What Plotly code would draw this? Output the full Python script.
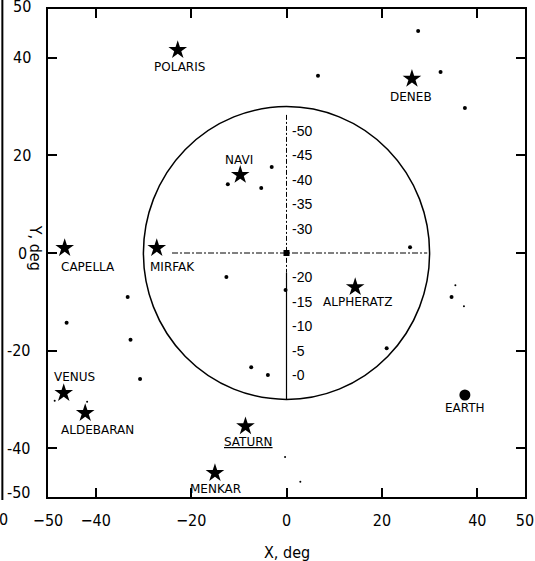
import plotly.graph_objects as go

# ---- data ----
star_names = ["POLARIS", "NAVI", "CAPELLA", "MIRFAK", "DENEB", "ALPHERATZ",
              "VENUS", "ALDEBARAN", "SATURN", "MENKAR"]
star_x = [-22.8, -9.7, -46.5, -27.2, 26.3, 14.4, -46.7, -42.2, -8.6, -15.0]
star_y = [41.6, 16.0, 1.0, 1.0, 35.7, -7.0, -28.7, -32.8, -35.5, -45.1]

earth_name = ["EARTH"]
earth_x = [37.4]
earth_y = [-29.1]

dot_x = [-12.3, -5.3, -3.1, 6.6, 27.6, 32.3, 37.4, 25.9, -12.6, -33.3,
         -46.1, -32.7, -30.7, -7.4, -3.9, -0.2, 21.0, 34.6]
dot_y = [14.1, 13.3, 17.6, 36.3, 45.5, 37.1, 29.7, 1.2, -4.9, -9.0,
         -14.3, -17.8, -25.8, -23.4, -25.0, -7.6, -19.5, -9.0]

faint_x = [37.2, 35.4, -0.3, 2.9, -41.8, -48.6]
faint_y = [-10.9, -6.6, -41.8, -46.9, -30.5, -30.3]

center_x = [0]
center_y = [0]

fov_radius = 30
inner_scale = [50, 45, 40, 35, 30, 20, 15, 10, 5, 0]
inner_scale_zero = 25  # scale value at the circle centre

x_tick_vals = [-50, -40, -20, 0, 20, 40, 50]
y_tick_vals = [50, 40, 20, 0, -20, -40, -50]

# ---- style ----
label_shift = {
    "POLARIS": (2, -17), "NAVI": (-1, 15), "CAPELLA": (23, -19),
    "MIRFAK": (16, -19), "DENEB": (-1, -18), "ALPHERATZ": (2, -15),
    "VENUS": (11, 16), "ALDEBARAN": (12, -17), "SATURN": (3, -16),
    "MENKAR": (1, -16), "EARTH": (0, -13),
}
LBL_FONT = dict(family="DejaVu Sans, Liberation Sans, Arial, sans-serif", size=12, color="black")
NUM_FONT = dict(family="Liberation Sans Narrow, DejaVu Sans Condensed, Arial Narrow, sans-serif",
                size=16, color="black")


def fmt(v):
    return ("\u2212%d" % -v) if v < 0 else str(v)


fig = go.Figure()

# field-of-view circle
fig.add_shape(type="circle", xref="x", yref="y",
              x0=-fov_radius, y0=-fov_radius, x1=fov_radius, y1=fov_radius,
              line=dict(color="black", width=1.5))
# cross hairs
fig.add_shape(type="line", xref="x", yref="y", x0=-24, y0=0, x1=29.5, y1=0,
              line=dict(color="black", width=1, dash="6px,2px,2px,2px"))
fig.add_shape(type="line", xref="x", yref="y", x0=0, y0=28.3, x1=0, y1=-4,
              line=dict(color="black", width=1, dash="5px,2px,2px,2px"))
fig.add_shape(type="line", xref="x", yref="y", x0=0, y0=-4, x1=0, y1=-fov_radius,
              line=dict(color="black", width=1.2))

# scan-edge line on far left
fig.add_shape(type="line", xref="paper", yref="paper",
              x0=(1.5 - 48) / 486, x1=(1.5 - 48) / 486,
              y0=(497 - 0) / 488, y1=(497 - 500) / 488,
              line=dict(color="black", width=2))

fig.add_trace(go.Scatter(x=dot_x, y=dot_y, mode="markers",
                         marker=dict(color="black", size=4), hoverinfo="skip"))
fig.add_trace(go.Scatter(x=faint_x, y=faint_y, mode="markers",
                         marker=dict(color="black", size=2), hoverinfo="skip"))
fig.add_trace(go.Scatter(x=center_x, y=center_y, mode="markers",
                         marker=dict(color="black", size=6, symbol="square"), hoverinfo="skip"))
fig.add_trace(go.Scatter(x=star_x, y=star_y, mode="markers",
                         marker=dict(color="black", size=14, symbol="star",
                                     line=dict(width=0))))
fig.add_trace(go.Scatter(x=earth_x, y=earth_y, mode="markers",
                         marker=dict(color="black", size=11, symbol="circle")))

annotations = []
for name, x, y in list(zip(star_names, star_x, star_y)) + list(zip(earth_name, earth_x, earth_y)):
    dx, dy = label_shift[name]
    text = "<u>%s</u>" % name if name == "SATURN" else name
    annotations.append(dict(x=x, y=y, xref="x", yref="y", text=text, showarrow=False,
                            xshift=dx, yshift=dy, font=LBL_FONT))

for v in inner_scale:
    annotations.append(dict(x=0.8, y=v - inner_scale_zero, xref="x", yref="y",
                            text="-%d" % v, showarrow=False, xanchor="left",
                            font=dict(family="Liberation Sans, Arial, sans-serif",
                                      size=14, color="black")))

# y tick labels (left-anchored at the reference's pixel columns)
for v in y_tick_vals:
    if v < 0:
        left_px = 5
    elif v == 0:
        left_px = 16
    else:
        left_px = 11
    shift = 5 if v == -50 else (3 if v == 50 else 0)
    annotations.append(dict(x=(left_px - 48) / 486, y=v, xref="paper", yref="y",
                            text=str(v), showarrow=False, xanchor="left",
                            yanchor="middle", yshift=shift, font=NUM_FONT,
                            borderpad=0))

# axis titles and stray label
annotations.append(dict(x=(292 - 48) / 486, y=(497 - 552) / 488, xref="paper", yref="paper",
                        text="X, deg", showarrow=False, font=NUM_FONT,
                        xanchor="center", yanchor="middle"))
annotations.append(dict(x=(36 - 48) / 486, y=(497 - 248) / 488, xref="paper", yref="paper",
                        text="Y, deg", showarrow=False, font=NUM_FONT, textangle=90,
                        xanchor="center", yanchor="middle"))
annotations.append(dict(x=(3 - 48) / 486, y=(497 - 519) / 488, xref="paper", yref="paper",
                        text="0", showarrow=False, font=NUM_FONT,
                        xanchor="center", yanchor="middle"))

axis_common = dict(showgrid=False, zeroline=False, showline=True, linecolor="black",
                   linewidth=2, mirror="ticks", ticks="inside", ticklen=9, tickwidth=1.5,
                   tickcolor="black", tickfont=NUM_FONT, ticklabeloverflow="allow")

fig.update_layout(
    width=535, height=561, autosize=False,
    margin=dict(l=48, r=1, t=9, b=64),
    paper_bgcolor="white", plot_bgcolor="white",
    showlegend=False,
    xaxis=dict(range=[-50, 50], tickvals=x_tick_vals, ticktext=[fmt(v) for v in x_tick_vals],
               ticklabelstandoff=8, **axis_common),
    yaxis=dict(range=[-50, 50], tickvals=y_tick_vals, showticklabels=False, **axis_common),
    annotations=annotations,
)

fig.write_html("out.html", config={"displayModeBar": False},
               post_script="document.body.style.margin='0';document.body.style.padding='0';")
